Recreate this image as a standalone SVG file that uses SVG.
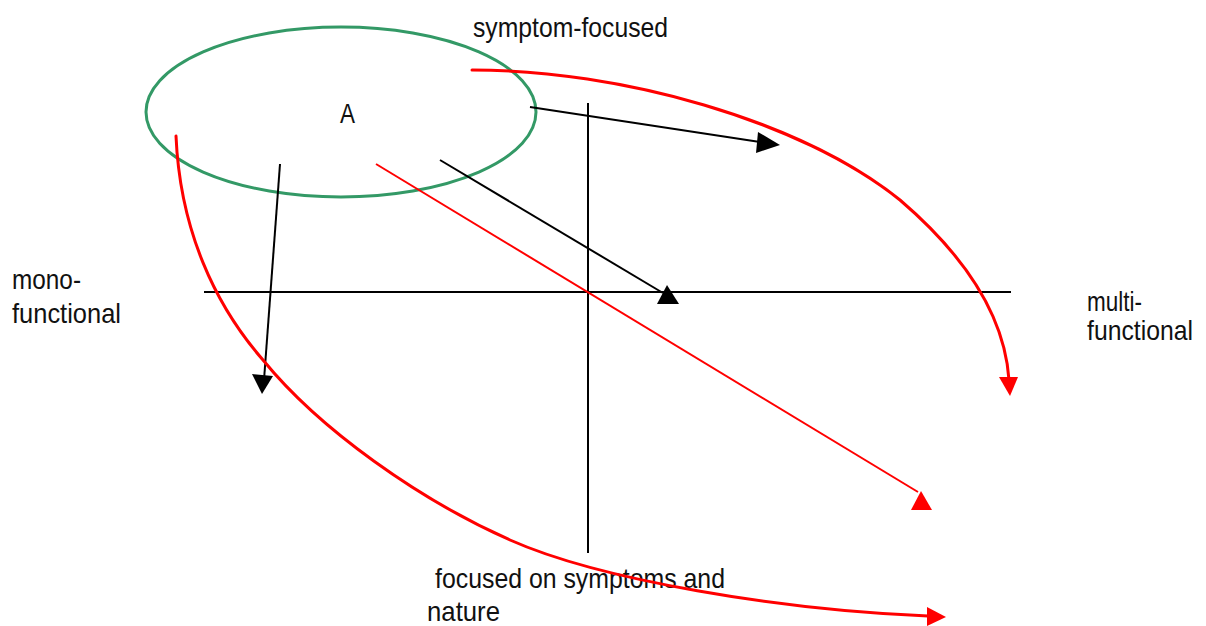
<svg xmlns="http://www.w3.org/2000/svg" width="1206" height="626" viewBox="0 0 1206 626">
<style>
text{font-family:"Liberation Sans",Arial,sans-serif;font-size:28px;fill:#111}
.ax{stroke:#000;stroke-width:2;fill:none}
.blk{stroke:#000;stroke-width:2;fill:none}
.red{stroke:#ff0000;stroke-width:2;fill:none}
.redc{stroke:#ff0000;stroke-width:3;fill:none;stroke-linejoin:round;stroke-linecap:round}
.hb{fill:#000}
.hr{fill:#ff0000}
</style>
<rect width="1206" height="626" fill="#fff"/>
<g id="axes">
<line class="ax" x1="588" y1="103" x2="588" y2="553"/>
<line class="ax" x1="204" y1="292" x2="1011" y2="292"/>
</g>
<g id="nodeA">
<ellipse cx="341" cy="112" rx="195" ry="85" fill="none" stroke="#339966" stroke-width="3"/>
<text x="340" y="123" textLength="15" lengthAdjust="spacingAndGlyphs">A</text>
</g>
<g id="label-top"><text x="473" y="37" textLength="195" lengthAdjust="spacingAndGlyphs">symptom-focused</text></g>
<g id="label-left"><text x="12" y="289" textLength="69" lengthAdjust="spacingAndGlyphs">mono-</text><text x="12" y="323" textLength="109" lengthAdjust="spacingAndGlyphs">functional</text></g>
<g id="label-right"><text x="1087" y="311" textLength="55" lengthAdjust="spacingAndGlyphs">multi-</text><text x="1087" y="340" textLength="106" lengthAdjust="spacingAndGlyphs">functional</text></g>
<g id="label-bottom"><text x="435" y="588" textLength="290" lengthAdjust="spacingAndGlyphs">focused on symptoms and</text><text x="427" y="621" textLength="73" lengthAdjust="spacingAndGlyphs">nature</text></g>
<g id="connectors">
<line class="blk" x1="530" y1="107" x2="760" y2="142"/>
<polygon class="hb" points="780,145 758,132 756,153"/>
<line class="blk" x1="440" y1="160" x2="663" y2="293"/>
<polygon class="hb" points="667,285 657,304 679,304"/>
<line class="blk" x1="280" y1="164" x2="264" y2="380"/>
<polygon class="hb" points="252,374 273,376 262,394"/>
<line class="red" x1="376" y1="164" x2="918" y2="492"/>
<polygon class="hr" points="921,491 911,510 932,510"/>
<path class="redc" d="M472,70 C620,70 800,120 900,200 C970,260 1005,320 1009,380"/>
<polygon class="hr" points="999,377 1018,377 1010,396"/>
<path class="redc" d="M176,136 C180,230 215,305 263,360 C320,430 420,500 510,540 C600,580 780,610 928,616"/>
<polygon class="hr" points="927,607 927,626 946,617"/>
</g>
</svg>
